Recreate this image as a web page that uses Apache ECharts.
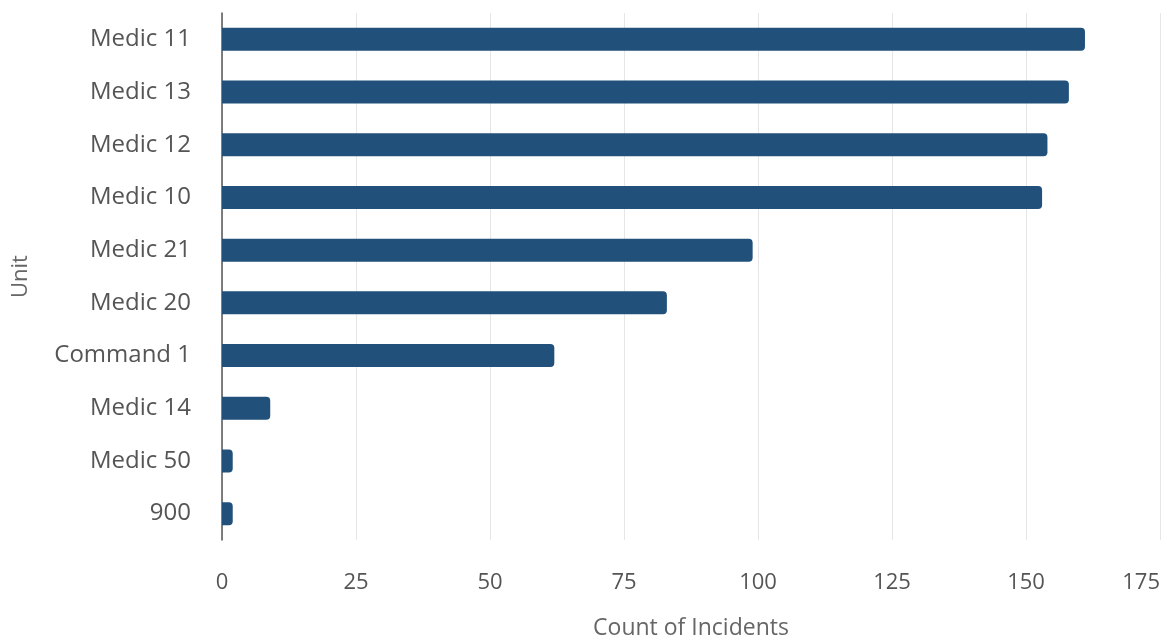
<!DOCTYPE html>
<html>
<head>
<meta charset="utf-8">
<script src="https://cdn.jsdelivr.net/npm/echarts@6/dist/echarts.min.js"></script>
<style>
html,body{margin:0;padding:0;background:#fff;}
#chart{width:1163px;height:643px;}
</style>
</head>
<body>
<div id="chart"></div>
<script>
const units = ["Medic 11","Medic 13","Medic 12","Medic 10","Medic 21","Medic 20","Command 1","Medic 14","Medic 50","900"];
const counts = [161,158,154,153,99,83,62,9,2,2];
const xTicks = [0,25,50,75,100,125,150,175];

const chart = echarts.init(document.getElementById('chart'), null, {renderer:'canvas'});
const font = '"Open Sans", "Noto Sans", sans-serif';
chart.setOption({
  animation:false,
  backgroundColor:'#ffffff',
  grid:{left:222, right:3, top:13, bottom:103, containLabel:false, outerBoundsMode:'none'},
  xAxis:{
    type:'value',
    min:xTicks[0], max:xTicks[xTicks.length-1], interval:25,
    name:'Count of Incidents',
    nameLocation:'middle', nameGap:77,
    nameTextStyle:{color:'#666', fontSize:23, fontFamily:font},
    axisLine:{show:false}, axisTick:{show:false},
    axisLabel:{color:'#555', fontSize:22, fontFamily:font, margin:32, alignMaxLabel:'right'},
    splitLine:{show:true, lineStyle:{color:'#e6e6e6', width:1}}
  },
  yAxis:{
    type:'category', data:units, inverse:true,
    name:'Unit', nameLocation:'middle', nameGap:190, nameRotate:90,
    nameTextStyle:{color:'#666', fontSize:22, fontFamily:font},
    axisLine:{show:true, lineStyle:{color:'#555', width:1.5}},
    axisTick:{show:false},
    axisLabel:{color:'#555', fontSize:24, fontFamily:font, margin:31},
    splitLine:{show:false}
  },
  series:[{
    type:'bar', data:counts, barWidth:23,
    itemStyle:{color:'#21507a', borderRadius:[0,4,4,0]}
  }]
});
</script>
</body>
</html>
